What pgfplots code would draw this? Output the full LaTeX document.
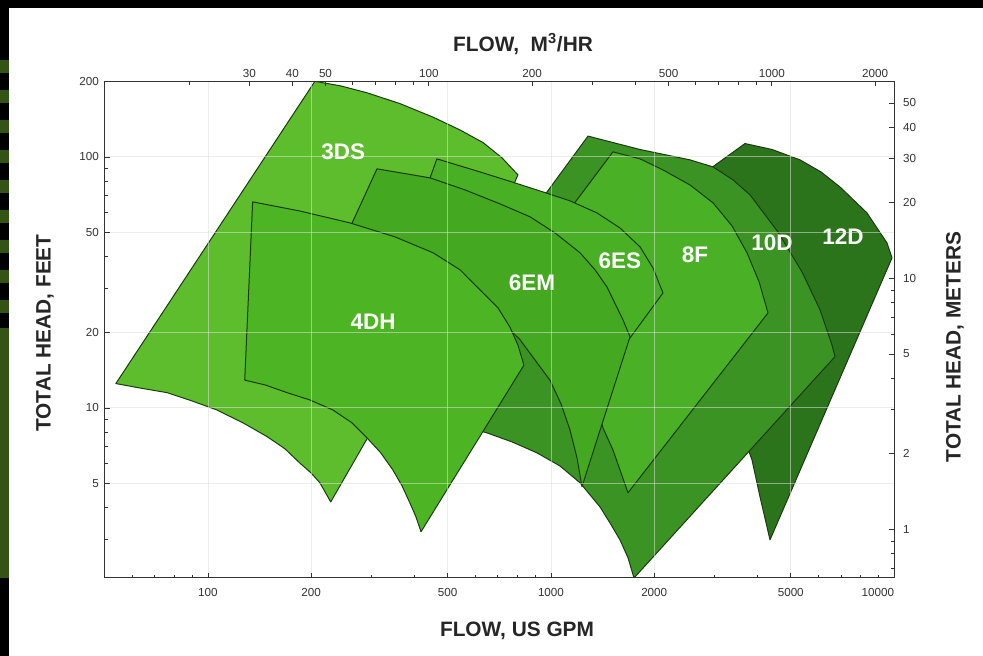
\documentclass[border=0pt]{standalone}
\usepackage{pgfplots}
\pgfplotsset{compat=1.18}
\usepackage{fontspec}
\setmainfont{Liberation Sans}

\definecolor{c3DS}{RGB}{94,189,44}
\definecolor{c4DH}{RGB}{77,181,36}
\definecolor{c6EM}{RGB}{68,168,33}
\definecolor{c6ES}{RGB}{73,176,38}
\definecolor{c8F}{RGB}{74,177,39}
\definecolor{c10D}{RGB}{58,147,35}
\definecolor{c12D}{RGB}{44,116,27}
\definecolor{edge}{RGB}{28,58,18}
\definecolor{strip}{RGB}{52,84,22}

\pgfplotsset{
  region/.style={fill=#1, draw=edge, line width=0.6pt, line join=round},
}

\begin{document}
\begin{tikzpicture}
\useasboundingbox (0,0) rectangle (589.8pt,393.6pt);
\fill[white] (0,0) rectangle (589.8pt,393.6pt);
% dark photo frame at top and left
\fill[black] (0,389pt) rectangle (589.8pt,393.6pt);
\fill[black] (0,0) rectangle (5.4pt,393.6pt);
\foreach \k in {0,...,8}
  \fill[strip] (0,{357.6pt-\k*18pt}) rectangle (5.4pt,{350pt-\k*18pt});
\fill[strip] (0,46.8pt) rectangle (5.4pt,196.8pt);

% main axis: US GPM / feet
\begin{axis}[
  at={(62.8pt,46.8pt)}, anchor=south west,
  scale only axis, width=473.6pt, height=298pt,
  xmode=log, ymode=log,
  xmin=50, xmax=10000, ymin=2.1, ymax=200,
  axis on top,
  xtick pos=bottom, ytick pos=left,
  xtick={100,200,500,1000,2000,5000,10000},
  xticklabels={100,200,500,1000,2000,5000,\makebox[0pt][r]{10000}},
  minor xtick={60,70,80,90,300,400,600,700,800,900,3000,4000,6000,7000,8000,9000},
  ytick={5,10,20,50,100,200},
  yticklabels={5,10,20,50,100,200},
  minor ytick={3,4,6,7,8,9,30,40,60,70,80,90},
  grid=major,
  major grid style={black!12, line width=0.5pt, opacity=0.55},
  axis line style={black!80, line width=0.6pt},
  tick style={black!80, line width=0.4pt},
  major tick length=3pt, minor tick length=2pt,
  ticklabel style={font=\fontsize{7}{8}\selectfont, text=black!80},
  xticklabel style={yshift=-2.5pt},
]
% back to front
\addplot[region=c12D] coordinates {
  (2079,64.4) (3678,113) (4410,107) (5320,97.3) (6125,87.1) (6957,75.9)
  (8342,59.8) (9541,45.4) (9867,39.6) (4350,2.98) (4068,4.42) (3855,6.21)
  (3326,10.8) (2719,26.9)
} -- cycle;
\addplot[region=c10D] coordinates {
  (1282,121) (1818,107) (2542,97.3) (2967,91.2) (3393,81.0) (3804,70.6)
  (4590,50.2) (5393,34.8) (6085,24.6) (6596,17.8) (6730,16.0) (1746,2.1)
  (1677,2.53) (1589,2.98) (1486,3.48) (1390,4.03) (1215,5.03) (1062,5.87)
  (910,6.62) (770,7.32) (651,7.95) (475,8.96) (333,9.82)
} -- cycle;
\addplot[region=c8F] coordinates {
  (1516,104.7) (1818,98.2) (2121,88.7) (2542,77.3) (2967,65.6) (3371,53.1)
  (3727,41.5) (4042,31.8) (4292,23.9) (1677,4.59) (1516,6.80) (1418,8.32)
  (1256,15.5) (1098,29.5) (973,46.7)
} -- cycle;
\addplot[region=c3DS] coordinates {
  (53.9,12.5) (205,200) (243,192) (291,180) (363,163) (453,144) (543,128)
  (634,114) (720,99.1) (801,84.8) (785,79.5) (228,4.22) (212,5.03)
  (199.7,5.51) (185,6.04) (167.7,6.87) (149,7.67) (126.5,8.72) (106,9.82)
  (89.8,10.66) (76,11.5) (63.3,12.0)
} -- cycle;
\addplot[region=c6ES] coordinates {
  (465,98.2) (621,87.1) (785,78.8) (948,72.5) (1136,66.8) (1362,59.8)
  (1589,52.1) (1818,43.8) (1983,36.1) (2121,28.7) (1700,19.0) (1282,11.3)
  (1062,17.8) (812,24.6) (581,32.4) (363,38.2)
} -- cycle;
\addplot[region=c6EM] coordinates {
  (311,89.6) (444,82.5) (561,73.9) (710,65.0) (869,57.7) (1027,49.8)
  (1215,41.5) (1344,35.5) (1457,30.3) (1622,22.4) (1700,19.2) (1231,4.85)
  (1191,6.32) (1136,8.17) (1070,10.37) (993,12.9) (812,18.7) (664,24.6)
  (444,32.4) (317,39.6) (246,44.6)
} -- cycle;
\addplot[region=c4DH] coordinates {
  (135,66.2) (185,60.9) (259,54.6) (351,48.0) (453,41.5) (543,35.5)
  (634,28.7) (701,25.0) (759,21.0) (801,17.8) (834,14.8) (418,3.21)
  (404,3.68) (388,4.18) (368,4.89) (346,5.66) (319,6.62) (291,7.59)
  (263,8.72) (231,9.82) (198,10.76) (170,11.5) (146.6,12.35) (128,12.9)
} -- cycle;

\begin{scope}[every node/.style={text=white, font=\bfseries\fontsize{13.5}{15}\selectfont}]
\node at (axis cs:248,104.7) {3DS};
\node at (axis cs:303,22.0) {4DH};
\node at (axis cs:880,31.5) {6EM};
\node at (axis cs:1589,38.5) {6ES};
\node at (axis cs:2629,40.7) {8F};
\node at (axis cs:4410,45.4) {10D};
\node at (axis cs:7100,48.0) {12D};
\end{scope}
\end{axis}

% secondary axis: m3/hr / meters
\begin{axis}[
  at={(62.8pt,46.8pt)}, anchor=south west,
  scale only axis, width=473.6pt, height=298pt,
  xmode=log, ymode=log,
  xmin=11.356, xmax=2271.2, ymin=0.6401, ymax=60.96,
  axis x line*=top, axis y line*=right,
  xtick={30,40,50,100,200,500,1000,2000},
  xticklabels={30,40,50,100,200,500,1000,2000},
  minor xtick={20,60,70,80,90,300,400,600,700,800,900},
  ytick={1,2,5,10,20,30,40,50},
  yticklabels={1,2,5,10,20,30,40,50},
  minor ytick={0.7,0.8,0.9,3,4,6,7,8,9},
  axis line style={black!80, line width=0.6pt},
  tick style={black!80, line width=0.4pt},
  major tick length=3pt, minor tick length=2pt,
  ticklabel style={font=\fontsize{7}{8}\selectfont, text=black!80},
  xticklabel style={yshift=-1.5pt},
  yticklabel style={xshift=2pt},
]
\end{axis}

% axis titles
\node[font=\bfseries\fontsize{12.5}{14}\selectfont, text=black!85] at (310.2pt,15pt) {FLOW, US GPM};
\node[font=\bfseries\fontsize{12.5}{14}\selectfont, text=black!85] at (313.8pt,367.2pt) {FLOW,\ \ M\textsuperscript{3}/HR};
\node[font=\bfseries\fontsize{12.5}{14}\selectfont, text=black!85, rotate=90] at (27pt,193.8pt) {TOTAL HEAD, FEET};
\node[font=\bfseries\fontsize{12.5}{14}\selectfont, text=black!85, rotate=90] at (573pt,185.4pt) {TOTAL HEAD, METERS};
\end{tikzpicture}
\end{document}
